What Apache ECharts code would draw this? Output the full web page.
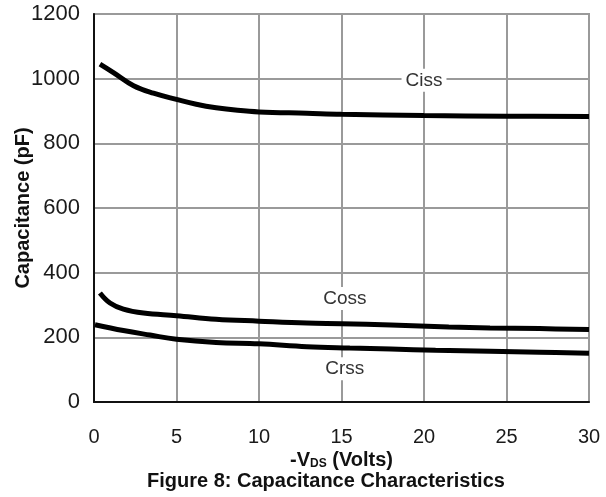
<!DOCTYPE html>
<html>
<head>
<meta charset="utf-8">
<script src="https://cdn.jsdelivr.net/npm/echarts@6/dist/echarts.min.js"></script>
<style>html,body{margin:0;padding:0;background:#fff;}#c{width:606px;height:497px;}</style>
</head>
<body>
<div id="c"></div>
<script>
var xTicks = [0, 5, 10, 15, 20, 25, 30];
var yTicks = [0, 200, 400, 600, 800, 1000, 1200];
var cissV = [0.36, 1.2, 2.4, 3.6, 5, 6.2, 7.4, 8.7, 10, 12.9, 15, 20, 25, 30];
var cissC = [1045, 1018, 978, 955, 936, 921, 910, 902, 897, 893, 890, 886, 884, 883];
var cossV = [0.36, 0.97, 1.78, 3.0, 5, 7.4, 10, 12.9, 15, 18, 21.5, 24, 27, 30];
var cossC = [337, 306, 287, 275, 267, 256, 250, 244, 242, 238, 232, 229, 227, 224];
var crssV = [0.06, 1.78, 3.4, 5, 7.4, 10, 12.9, 15.5, 18, 20.7, 24, 27, 30];
var crssC = [239, 221, 207, 194, 184, 180, 171, 167, 164, 160, 157, 154, 151];
var labelNames = ['Ciss', 'Coss', 'Crss'];
var labelV = [20, 15.2, 15.2];
var labelC = [995, 320, 103];

function pairs(xs, ys) { return xs.map(function (x, i) { return [x, ys[i]]; }); }
var font = 'Liberation Sans, Arial, sans-serif';
function markFor(i) {
  return {
    symbol: 'none',
    data: [{
      coord: [labelV[i], labelC[i]],
      symbol: 'rect', symbolSize: 0,
      label: {
        show: true, formatter: labelNames[i], position: 'inside',
        color: '#333', fontSize: 19, fontFamily: font,
        backgroundColor: '#fff', padding: [2, 4]
      }
    }]
  };
}
var lineStyle = { color: '#000', width: 5 };
var chart = echarts.init(document.getElementById('c'), null, { renderer: 'canvas' });
chart.setOption({
  animation: false,
  backgroundColor: '#fff',
  title: {
    text: 'Figure 8: Capacitance Characteristics',
    left: 147, top: 471,
    textStyle: { fontFamily: font, fontSize: 20, fontWeight: 'bold', color: '#111' },
    padding: 0
  },
  grid: { left: 94, right: 17, top: 14, bottom: 95, containLabel: false, outerBoundsMode: 'none',
          show: true, borderColor: '#9a9a9a', borderWidth: 2 },
  xAxis: {
    type: 'value', min: 0, max: 30, interval: 5,
    name: '{a|-V}{b|DS}{a| (Volts)}', nameLocation: 'middle', nameGap: 48, nameMoveOverlap: false,
    nameTextStyle: {
      rich: {
        a: { fontFamily: font, fontSize: 20, fontWeight: 'bold', color: '#111' },
        b: { fontFamily: font, fontSize: 12, fontWeight: 'bold', color: '#111', verticalAlign: 'bottom' }
      }
    },
    axisLine: { show: true, lineStyle: { color: '#111', width: 2 } },
    axisTick: { show: false },
    axisLabel: { margin: 25, fontFamily: font, fontSize: 20, color: '#1a1a1a',
      formatter: function (v) { return xTicks.indexOf(v) >= 0 ? String(v) : ''; } },
    splitLine: { show: true, lineStyle: { color: '#9a9a9a', width: 2 } }
  },
  yAxis: {
    type: 'value', min: 0, max: 1200, interval: 200,
    name: 'Capacitance (pF)', nameLocation: 'middle', nameGap: 61, nameRotate: 90, nameMoveOverlap: false,
    nameTextStyle: { fontFamily: font, fontSize: 20, fontWeight: 'bold', color: '#111' },
    axisLine: { show: true, lineStyle: { color: '#111', width: 2 } },
    axisTick: { show: false },
    axisLabel: { margin: 14, fontFamily: font, fontSize: 22, color: '#1a1a1a',
      formatter: function (v) { return yTicks.indexOf(v) >= 0 ? String(v) : ''; } },
    splitLine: { show: true, lineStyle: { color: '#9a9a9a', width: 2 } }
  },
  series: [
    { type: 'line', name: 'Ciss', data: pairs(cissV, cissC), smooth: 0.4, symbol: 'none', lineStyle: lineStyle, markPoint: markFor(0), z: 3 },
    { type: 'line', name: 'Coss', data: pairs(cossV, cossC), smooth: 0.4, symbol: 'none', lineStyle: lineStyle, markPoint: markFor(1), z: 3 },
    { type: 'line', name: 'Crss', data: pairs(crssV, crssC), smooth: 0.4, symbol: 'none', lineStyle: lineStyle, markPoint: markFor(2), z: 3 }
  ]
});
</script>
</body>
</html>
